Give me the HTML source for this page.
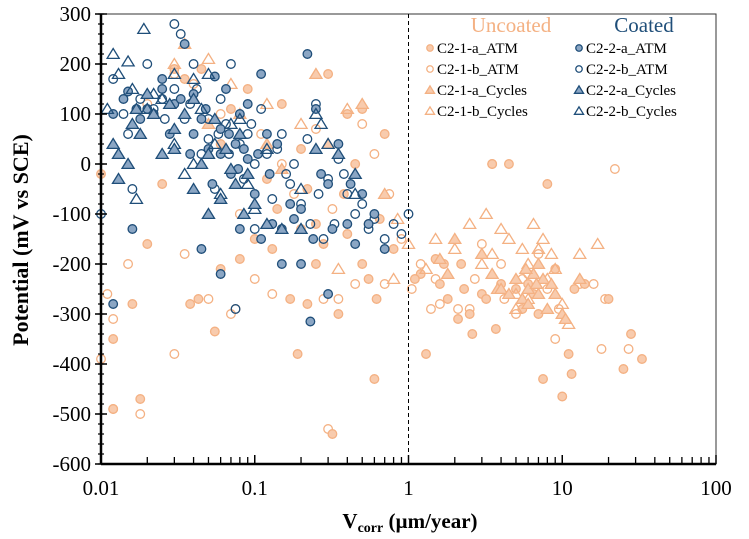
<!DOCTYPE html>
<html><head><meta charset="utf-8"><style>
body{margin:0;background:#fff}
svg{display:block;font-family:"Liberation Serif",serif}
</style></head><body>
<svg id="chart" width="749" height="539" viewBox="0 0 749 539" xmlns="http://www.w3.org/2000/svg">
<rect x="0" y="0" width="749" height="539" fill="#fff"/>
<g id="marks"></g>
<g id="axes"></g>
<text transform="translate(28,240) rotate(-90)" text-anchor="middle" font-size="22" font-weight="bold">Potential (mV vs SCE)</text>
<text x="410" y="528" text-anchor="middle" font-size="21" font-weight="bold">V<tspan font-size="14" dy="4">corr</tspan><tspan dy="-4"> (µm/year)</tspan></text>
<g font-size="15">
<text x="511" y="32" text-anchor="middle" font-size="21" fill="#f4b183">Uncoated</text>
<text x="644" y="32" text-anchor="middle" font-size="21" fill="#1f4e79">Coated</text>
<g id="legend-items"></g>
</g>
</svg>
<script>
const xTicks=[0.01,0.1,1,10,100];
const xTickLabels=["0.01","0.1","1","10","100"];
const yTicks=[300,200,100,0,-100,-200,-300,-400,-500,-600];
const seriesNames=["C2-1-b_ATM","C2-1-a_ATM","C2-1-b_Cycles","C2-1-a_Cycles","C2-2-b_ATM","C2-2-a_ATM","C2-2-b_Cycles","C2-2-a_Cycles"];
const u_b_atm=[[0.01,-390],[0.011,-260],[0.012,-310],[0.012,-490],[0.015,-200],[0.018,-500],[0.02,120],[0.03,-380],[0.035,-180],[0.05,-270],[0.07,-300],[0.075,-290],[0.1,-230],[0.13,-260],[0.2,-130],[0.3,-530],[0.28,-270],[0.35,-270],[0.45,-240],[0.7,-240],[0.9,-150],[1.05,-250],[1.4,-290],[1.6,-280],[2.1,-290],[2.5,-290],[3.5,0],[5,-300],[9,-350],[9.5,-290],[18,-370],[19,-270],[27,-370],[22,-10],[4,-200],[6,-220],[1.2,-200],[0.5,80],[0.25,70],[0.15,0],[0.6,20],[0.04,160],[0.08,-100],[3,-160],[7,-180],[13,-240],[16,-240],[0.03,180],[0.06,100],[0.11,60],[0.18,-60],[0.32,-90],[0.55,-120],[0.75,-60],[1.5,-230],[2.7,-230],[4.2,-270],[5.5,-230],[8,-250]];
const u_a_atm=[[0.01,-20],[0.012,-490],[0.012,-350],[0.016,-280],[0.018,-470],[0.02,-160],[0.025,-40],[0.03,190],[0.035,170],[0.038,-280],[0.043,-270],[0.055,-335],[0.06,-210],[0.08,-190],[0.1,-150],[0.13,-170],[0.17,-270],[0.19,-380],[0.22,-280],[0.25,-200],[0.32,-540],[0.35,-300],[0.4,-140],[0.5,-200],[0.55,-230],[0.6,-430],[0.62,-270],[0.3,180],[0.15,120],[0.2,30],[0.4,100],[0.8,-170],[1.2,-220],[1.3,-380],[1.5,-190],[1.7,-200],[2.1,-310],[2.5,-300],[2.6,-340],[3.0,-260],[3.5,0],[3.7,-330],[4.5,0],[5,-250],[6,-240],[7.5,-430],[8,-40],[10,-465],[11,-380],[11.5,-420],[12,-250],[14,-240],[20,-270],[25,-410],[28,-340],[33,-390],[5.5,-290],[6.5,-260],[7,-300],[9,-210],[2.3,-250],[3.2,-270],[0.7,60],[0.5,110],[0.25,-120],[0.06,40],[0.09,150],[0.12,-30],[0.45,0],[1.1,-230],[1.6,-240],[0.045,190],[0.07,110],[0.14,-90],[0.22,-50],[0.28,-160],[0.38,-60],[0.65,-110],[1.8,-270],[2.2,-200],[4,-240]];
const u_b_cyc=[[0.03,200],[0.05,210],[0.07,160],[0.12,120],[0.2,80],[0.4,110],[0.8,-230],[0.85,-110],[1.0,-160],[1.3,-210],[1.5,-150],[2,-170],[3,-200],[3.2,-100],[4.5,-150],[5,-260],[5.5,-170],[6,-200],[6.5,-120],[7,-170],[7.5,-150],[8.5,-180],[9,-210],[10,-280],[11,-320],[13,-180],[17,-160],[4,-130],[2.5,-120],[0.35,-210],[5,-290],[6,-270],[8,-230],[3.5,-180]];
const u_a_cyc=[[0.035,240],[0.04,130],[0.05,80],[0.08,100],[0.12,40],[0.25,180],[0.5,120],[0.7,-60],[1.6,-190],[1.8,-220],[3.5,-220],[3.8,-250],[4,-250],[4.5,-260],[5,-230],[5.5,-270],[6,-250],[6.5,-220],[7,-200],[7.5,-230],[8,-290],[8.5,-240],[10,-300],[10.5,-310],[13,-230],[6,-280],[7,-260],[3,-180],[2,-150],[0.3,40],[0.15,-10],[6.8,-240],[5.8,-210],[9,-260]];
const c_b_atm=[[0.01,-100],[0.012,170],[0.015,60],[0.02,200],[0.025,130],[0.03,280],[0.033,260],[0.038,120],[0.04,200],[0.05,90],[0.055,-50],[0.06,130],[0.07,200],[0.075,-290],[0.08,40],[0.09,60],[0.1,0],[0.1,-130],[0.12,20],[0.13,-70],[0.15,60],[0.17,-40],[0.2,-80],[0.23,-120],[0.25,120],[0.28,-150],[0.3,-30],[0.35,10],[0.4,-60],[0.45,-100],[0.5,-80],[0.6,-110],[0.8,-120],[0.9,-140],[1.0,-100],[0.016,-50],[0.035,90],[0.045,20],[0.065,80],[0.11,110],[0.18,0],[0.022,110],[0.03,150],[0.05,50],[0.085,-30],[0.014,100],[0.018,130],[0.026,90],[0.042,150],[0.058,60],[0.068,20],[0.095,80],[0.14,30],[0.16,-20],[0.22,50],[0.26,-60],[0.33,-120],[0.38,-20],[0.55,-130],[0.7,-150]];
const c_a_atm=[[0.012,100],[0.015,145],[0.02,110],[0.025,150],[0.03,120],[0.035,240],[0.04,60],[0.045,90],[0.05,30],[0.055,175],[0.06,70],[0.065,150],[0.07,-20],[0.075,40],[0.08,100],[0.09,10],[0.1,-60],[0.11,180],[0.12,60],[0.13,-120],[0.15,-130],[0.17,-80],[0.2,-200],[0.22,220],[0.24,-150],[0.25,110],[0.3,-40],[0.35,40],[0.4,-120],[0.45,-160],[0.5,-60],[0.6,-100],[0.7,-170],[0.012,-280],[0.23,-315],[0.3,-260],[0.016,-130],[0.045,-170],[0.08,-130],[0.06,-220],[0.15,-200],[0.11,-150],[0.025,170],[0.018,90],[0.04,140],[0.06,20],[0.09,120],[0.2,-90],[0.014,130],[0.017,110],[0.022,100],[0.028,60],[0.033,130],[0.038,20],[0.048,110],[0.053,-40],[0.068,60],[0.078,-10],[0.085,30],[0.105,20],[0.125,-20],[0.14,40],[0.18,-110],[0.27,-20],[0.32,-130],[0.42,-40],[0.55,-120]];
const c_b_cyc=[[0.011,110],[0.012,220],[0.013,180],[0.015,205],[0.016,150],[0.017,-70],[0.019,270],[0.02,110],[0.025,130],[0.03,40],[0.035,-20],[0.04,170],[0.05,180],[0.06,-60],[0.08,90],[0.1,-90],[0.12,30],[0.2,-50],[0.25,100],[0.27,80],[0.3,40],[0.45,-60],[0.03,180],[0.045,110],[0.07,80],[0.022,140],[0.04,0],[0.055,40],[0.09,-40]];
const c_a_cyc=[[0.012,40],[0.013,20],[0.015,0],[0.016,80],[0.02,140],[0.025,20],[0.03,30],[0.035,100],[0.04,-50],[0.045,0],[0.05,-100],[0.055,90],[0.06,-70],[0.07,-10],[0.08,60],[0.09,-20],[0.1,-80],[0.12,-120],[0.15,-130],[0.2,-130],[0.25,30],[0.35,20],[0.45,-20],[0.013,-30],[0.018,60],[0.03,70],[0.04,130],[0.065,30],[0.085,-100],[0.017,110],[0.022,100],[0.028,120],[0.05,20],[0.075,-40]];

const NS="http://www.w3.org/2000/svg";
const L=101,R=716,T=14,B=464;
function xs(v){return L+(Math.log10(v)+2)/4*(R-L);}
function ys(v){return T+(300-v)/900*(B-T);}
const OR="#f4b183",ORF="#f8cbad",BL="#1f4e79",BLF="#8ba6c4";
const styles={
 "C2-1-b_ATM":{shape:"c",stroke:OR,fill:"none"},
 "C2-1-a_ATM":{shape:"c",stroke:OR,fill:ORF},
 "C2-1-b_Cycles":{shape:"t",stroke:OR,fill:"none"},
 "C2-1-a_Cycles":{shape:"t",stroke:OR,fill:ORF},
 "C2-2-b_ATM":{shape:"c",stroke:BL,fill:"none"},
 "C2-2-a_ATM":{shape:"c",stroke:BL,fill:BLF},
 "C2-2-b_Cycles":{shape:"t",stroke:BL,fill:"none"},
 "C2-2-a_Cycles":{shape:"t",stroke:BL,fill:BLF}};
const dataSets=[u_b_atm,u_a_atm,u_b_cyc,u_a_cyc,c_b_atm,c_a_atm,c_b_cyc,c_a_cyc];
function marker(parent,st,cx,cy,s){
 let el;
 if(st.shape==="c"){el=document.createElementNS(NS,"circle");el.setAttribute("cx",cx);el.setAttribute("cy",cy);el.setAttribute("r",4.3*s);}
 else{el=document.createElementNS(NS,"polygon");const h=5.5*s;el.setAttribute("points",`${cx},${cy-h} ${cx-h*1.1},${cy+h*0.8} ${cx+h*1.1},${cy+h*0.8}`);}
 el.setAttribute("fill",st.fill);el.setAttribute("stroke",st.stroke);el.setAttribute("stroke-width",1.3);
 parent.appendChild(el);return el;
}
const marks=document.getElementById("marks");
dataSets.forEach((ds,i)=>{
 const g=document.createElementNS(NS,"g");
 
 
 marks.appendChild(g);
 ds.forEach(p=>{
  const el=marker(g,styles[seriesNames[i]],xs(p[0]),ys(p[1]),1);
  
  
 });
});
const ax=document.getElementById("axes");
function line(x1,y1,x2,y2,w,dash){const l=document.createElementNS(NS,"line");l.setAttribute("x1",x1);l.setAttribute("y1",y1);l.setAttribute("x2",x2);l.setAttribute("y2",y2);l.setAttribute("stroke","#000");l.setAttribute("stroke-width",w);if(dash)l.setAttribute("stroke-dasharray",dash);ax.appendChild(l);return l;}
const fr=document.createElementNS(NS,"rect");
fr.setAttribute("x",L);fr.setAttribute("y",T);fr.setAttribute("width",R-L);fr.setAttribute("height",B-T);fr.setAttribute("fill","none");fr.setAttribute("stroke","#333");fr.setAttribute("stroke-width",1);


ax.appendChild(fr);
const yl=line(L,T,L,B,2.5);


const xl=line(L,B,R,B,2.5);


const dl=line(xs(1),T,xs(1),B,1,"4,3");


for(let v=-600;v<=300;v+=20){line(L-3,ys(v),L+3,ys(v),1.2);}
yTicks.forEach(v=>{line(L-6,ys(v),L+6,ys(v),1.5);
 const t=document.createElementNS(NS,"text");t.setAttribute("x",L-10);t.setAttribute("y",ys(v)+7);t.setAttribute("text-anchor","end");t.setAttribute("font-size","21");t.textContent=v;
 
 
 ax.appendChild(t);});
for(let d=-2;d<2;d++){for(let k=2;k<=9;k++){const x=xs(k*Math.pow(10,d));line(x,B,x,B-7,1.3);}}
xTicks.forEach((v,i)=>{line(xs(v),B,xs(v),B-9,1.5);
 const t=document.createElementNS(NS,"text");t.setAttribute("x",xs(v));t.setAttribute("y",B+31);t.setAttribute("text-anchor","middle");t.setAttribute("font-size","21");t.textContent=xTickLabels[i];
 
 
 ax.appendChild(t);});
const legendOrder=[["C2-1-a_ATM",430,48],["C2-1-b_ATM",430,69],["C2-1-a_Cycles",430,90],["C2-1-b_Cycles",430,111],["C2-2-a_ATM",579,48],["C2-2-b_ATM",579,69],["C2-2-a_Cycles",579,90],["C2-2-b_Cycles",579,111]];
const lg=document.getElementById("legend-items");
legendOrder.forEach(e=>{
 const g=document.createElementNS(NS,"g");
 
 
 lg.appendChild(g);
 marker(g,styles[e[0]],e[1],e[2],0.75);
 const t=document.createElementNS(NS,"text");t.setAttribute("x",e[1]+7);t.setAttribute("y",e[2]+5);t.textContent=e[0];g.appendChild(t);
});
</script>
</body></html>
